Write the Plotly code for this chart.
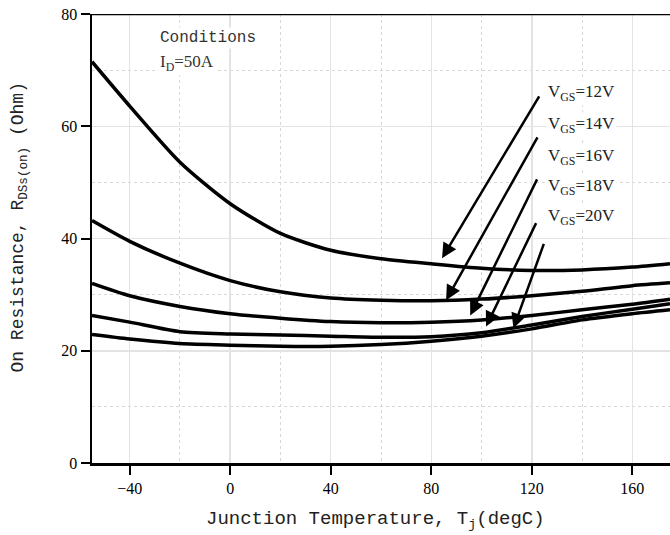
import plotly.graph_objects as go

# ---- data ----
temps = [-55, -40, -20, 0, 20, 40, 60, 80, 100, 120, 140, 160, 175]
r_vgs12 = [71.5, 63.6, 53.6, 46.2, 40.9, 37.9, 36.4, 35.5, 34.7, 34.3, 34.4, 34.9, 35.5]
r_vgs14 = [43.2, 39.5, 35.6, 32.5, 30.5, 29.4, 29.0, 28.9, 29.2, 29.8, 30.6, 31.6, 32.1]
r_vgs16 = [32.0, 29.8, 27.9, 26.6, 25.8, 25.2, 25.0, 25.1, 25.5, 26.3, 27.3, 28.3, 29.2]
r_vgs18 = [26.3, 25.1, 23.4, 23.0, 22.8, 22.6, 22.4, 22.5, 23.2, 24.6, 26.1, 27.4, 28.4]
r_vgs20 = [22.9, 22.1, 21.3, 21.0, 20.8, 20.8, 21.1, 21.7, 22.6, 23.9, 25.5, 26.6, 27.3]
series = [r_vgs12, r_vgs14, r_vgs16, r_vgs18, r_vgs20]
labels = ["V<sub>GS</sub>=12V", "V<sub>GS</sub>=14V", "V<sub>GS</sub>=16V",
          "V<sub>GS</sub>=18V", "V<sub>GS</sub>=20V"]

x_ticks = [-40, 0, 40, 80, 120, 160]
y_ticks = [0, 20, 40, 60, 80]

# annotation anchor points (data coordinates)
label_x = 125.7
label_y = [66.0, 60.3, 54.6, 49.2, 43.8]
arrow_tail_x = [123.3, 122.6, 122.4, 122.0, 125.0]
arrow_tail_y = [65.6, 58.3, 50.8, 43.0, 39.3]
arrow_head_x = [84.3, 85.9, 95.5, 101.8, 112.7]
arrow_head_y = [36.5, 29.0, 26.3, 24.3, 24.0]

fig = go.Figure()
for vals, lab in zip(series, labels):
    fig.add_trace(go.Scatter(x=temps, y=vals, mode="lines", name=lab,
                             line=dict(color="black", width=3.5, shape="spline", smoothing=0.7),
                             showlegend=False, hoverinfo="skip"))

annotations = []
for lx, ly, lab in zip([label_x] * 5, label_y, labels):
    annotations.append(dict(x=lx, y=ly, xref="x", yref="y", text=lab, showarrow=False,
                            xanchor="left", yanchor="middle", bgcolor="white", borderpad=1,
                            font=dict(family="Liberation Serif", size=17, color="#222")))
for tx, ty, hx, hy in zip(arrow_tail_x, arrow_tail_y, arrow_head_x, arrow_head_y):
    annotations.append(dict(x=hx, y=hy, ax=tx, ay=ty, xref="x", yref="y", axref="x", ayref="y",
                            text="", showarrow=True, arrowhead=2, arrowsize=1.2, arrowwidth=2.5,
                            arrowcolor="black"))
annotations.append(dict(x=-28.6, y=75.8, xref="x", yref="y", text="Conditions", showarrow=False,
                        xanchor="left", yanchor="middle", bgcolor="white",
                        font=dict(family="Liberation Mono", size=16, color="#333")))
annotations.append(dict(x=-28.6, y=71.2, xref="x", yref="y", text="I<sub>D</sub>=50A", showarrow=False,
                        xanchor="left", yanchor="middle", bgcolor="white",
                        font=dict(family="Liberation Serif", size=17, color="#333")))
annotations.append(dict(x=0.49, y=-0.126, xref="paper", yref="paper",
                        text="Junction Temperature, T<sub>j</sub>(degC)", showarrow=False,
                        xanchor="center", yanchor="middle",
                        font=dict(family="Liberation Mono", size=19, color="#222")))
annotations.append(dict(x=-0.125, y=0.526, xref="paper", yref="paper",
                        text="On Resistance, R<sub>DSs(on)</sub> (Ohm)", showarrow=False,
                        textangle=-90, xanchor="center", yanchor="middle",
                        font=dict(family="Liberation Mono", size=18, color="#222")))

fig.update_layout(
    width=670, height=535,
    margin=dict(l=92, r=0, t=14, b=72),
    paper_bgcolor="white", plot_bgcolor="white",
    annotations=annotations,
    hovermode=False,
    shapes=[dict(type="line", xref="paper", yref="y", x0=0, x1=1, y0=80, y1=80,
                 line=dict(color="black", width=2.5))],
)
fig.update_xaxes(range=[-55, 175], tickvals=x_ticks, ticks="outside", ticklen=9, tickwidth=2,
                 tickcolor="black", showline=True, linecolor="black", linewidth=2.5,
                 showgrid=True, gridcolor="#e3e3e3", gridwidth=1.5, zeroline=False,
                 tickfont=dict(family="Liberation Serif", size=16, color="black"),
                 minor=dict(tickvals=[-20, 20, 60, 100, 140], showgrid=True, griddash="dot",
                            gridcolor="#d8d8d8", gridwidth=1, ticklen=0))
fig.update_yaxes(range=[0, 80], tickvals=y_ticks, ticks="outside", ticklen=9, tickwidth=2,
                 tickcolor="black", showline=True, linecolor="black", linewidth=2.5,
                 showgrid=True, gridcolor="#e3e3e3", gridwidth=1.5, zeroline=False,
                 tickfont=dict(family="Liberation Serif", size=16, color="black"),
                 minor=dict(tickvals=[10, 30, 50, 70], showgrid=True, griddash="dot",
                            gridcolor="#d8d8d8", gridwidth=1, ticklen=0))

fig.write_html("out.html", config={"displayModeBar": False, "staticPlot": True},
               post_script="document.body.style.margin='0';document.body.style.overflow='hidden';")
